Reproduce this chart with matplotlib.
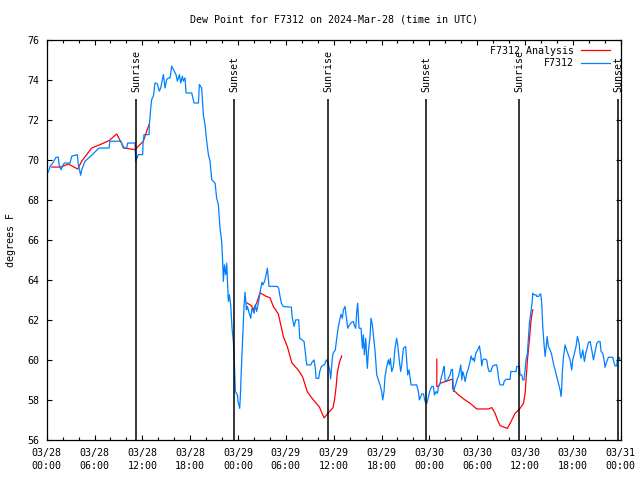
import numpy as np
import matplotlib
matplotlib.use("Agg")
import matplotlib.pyplot as plt
from matplotlib.ticker import MultipleLocator

# ---------------- data (hours since 2024-03-28 00:00 UTC) ----------------
obs_hours = [0.21, 0.42, 0.71, 1.17, 1.46, 1.55, 1.8, 1.96, 2.21, 2.93, 3.13, 3.84, 3.97, 4.26, 4.39,
             4.81, 5.64, 6.56, 7.82, 7.94, 9.32, 9.61, 10.03, 10.16, 11.08, 11.16, 11.49, 12.04,
             12.08, 12.21, 12.84, 12.88, 13.05, 13.17, 13.38, 13.59, 13.88, 14.13, 14.3, 14.64,
             14.85, 15.05, 15.26, 15.47, 15.68, 15.89, 16.22, 16.39, 16.64, 16.81, 17.02, 17.14,
             17.35, 17.48, 18.19, 18.48, 19.03, 19.15, 19.44, 19.65, 19.86, 20.07, 20.28, 20.49,
             20.7, 21.12, 21.32, 21.53, 21.74, 21.95, 22.08, 22.16, 22.29, 22.45, 22.58, 22.7,
             22.79, 22.91, 23.08, 23.25, 23.41, 23.5, 23.59, 23.67, 23.92, 24.0, 24.21, 24.3,
             24.42, 24.55, 24.76, 24.88, 25.05, 25.17, 25.34, 25.59, 25.76, 26.01, 26.18, 26.34,
             26.51, 26.68, 26.85, 27.01, 27.14, 27.35, 27.52, 27.68, 27.77, 27.89, 28.94, 29.1,
             29.23, 29.44, 29.65, 30.69, 30.78, 31.03, 31.24, 31.61, 31.74, 32.28, 32.45, 32.62,
             33.12, 33.28, 33.53, 33.7, 33.79, 34.12, 34.25, 34.45, 34.87, 35.08, 35.21, 35.29,
             35.5, 35.62, 35.79, 35.92, 36.2, 36.38, 36.59, 36.8, 36.92, 37.09, 37.22, 37.42,
             37.55, 37.76, 37.93, 38.26, 38.47, 38.59, 38.76, 38.89, 39.01, 39.18, 39.43, 39.6,
             39.72, 39.85, 40.02, 40.14, 40.22, 40.35, 40.56, 40.68, 40.85, 41.02, 41.19, 41.4,
             41.6, 41.81, 42.02, 42.15, 42.31, 42.44, 42.65, 42.86, 42.98, 43.11, 43.28, 43.49,
             43.69, 43.9, 44.03, 44.2, 44.4, 44.53, 44.74, 45.03, 45.16, 45.28, 45.45, 45.7,
             46.41, 46.62, 46.75, 46.84, 47.05, 47.26, 47.47, 47.68, 47.89, 48.09, 48.3, 48.51,
             48.64, 48.85, 49.01, 49.14, 49.35, 49.47, 49.64, 49.77, 49.85, 49.98, 50.18, 50.39,
             50.6, 50.73, 50.9, 51.02, 51.15, 51.35, 51.52, 51.65, 51.77, 51.94, 52.07, 52.19,
             52.36, 52.48, 52.69, 52.9, 53.11, 53.24, 53.4, 53.53, 53.65, 53.82, 53.95, 54.16,
             54.28, 54.45, 54.57, 54.7, 54.87, 55.2, 55.33, 55.49, 55.7, 55.95, 56.25, 56.45,
             56.58, 56.7, 56.87, 57.29, 57.37, 57.62, 58.13, 58.21, 58.88, 58.96, 59.3, 59.38,
             59.59, 59.71, 59.88, 60.01, 60.13, 60.3, 60.43, 60.55, 60.72, 60.88, 60.97, 61.14,
             61.39, 61.47, 61.72, 61.8, 61.97, 62.1, 62.22, 62.39, 62.52, 62.64, 62.77, 62.93,
             63.14, 63.35, 63.56, 63.77, 63.98, 64.19, 64.4, 64.52, 64.61, 64.69, 64.81, 65.02,
             65.23, 65.44, 65.65, 65.86, 65.98, 66.15, 66.4, 66.57, 66.78, 66.9, 67.03, 67.24,
             67.45, 67.61, 67.74, 67.95, 68.16, 68.37, 68.58, 68.79, 69.0, 69.2, 69.41, 69.54,
             69.75, 69.91, 70.04, 70.25, 70.46, 71.0, 71.08, 71.29, 71.5, 71.59, 71.8, 71.92]
obs_values = [69.38, 69.67, 69.8, 70.12, 70.12, 69.75, 69.5, 69.67, 69.83, 69.83, 70.17, 70.25, 69.75,
              69.22, 69.5, 69.92, 70.22, 70.58, 70.58, 70.92, 70.92, 70.58, 70.58, 70.83, 70.83,
              69.92, 70.25, 70.25, 70.78, 71.25, 71.25, 71.75, 72.58, 73.0, 73.17, 73.83, 73.78,
              73.42, 73.58, 74.25, 73.58, 74.0, 74.08, 74.08, 74.67, 74.5, 74.25, 73.92, 74.25,
              73.83, 74.17, 73.92, 74.08, 73.33, 73.33, 72.83, 72.83, 73.75, 73.58, 72.25, 71.75,
              70.92, 70.25, 69.92, 69.0, 68.83, 68.08, 67.75, 66.58, 65.92, 64.83, 63.92, 64.75,
              64.25, 64.83, 63.75, 62.92, 63.25, 62.75, 61.58, 60.92, 60.3, 59.25, 58.42, 58.25,
              57.92, 57.58, 58.25, 59.58, 60.83, 62.75, 63.38, 62.5, 62.67, 62.42, 62.08, 62.58,
              62.33, 62.75, 62.42, 62.75, 63.17, 63.58, 63.88, 63.75, 63.95, 64.25, 64.58, 64.17,
              63.67, 63.67, 63.58, 63.25, 62.83, 62.67, 62.63, 62.17, 61.67, 62.0, 62.0, 61.08,
              60.92, 60.33, 59.75, 59.75, 59.88, 60.0, 59.58, 59.08, 59.08, 59.42, 59.67, 59.78,
              60.0, 59.92, 59.83, 59.5, 59.05, 59.92, 60.33, 60.5, 61.08, 61.67, 62.08, 62.28,
              62.08, 62.5, 62.67, 62.25, 61.58, 61.72, 61.88, 61.92, 61.72, 61.58, 62.42, 62.83,
              61.58, 61.58, 60.58, 61.25, 60.25, 61.08, 60.08, 59.58, 60.42, 61.17, 62.08, 61.75,
              61.08, 60.42, 59.25, 59.0, 58.75, 58.42, 58.0, 58.42, 59.17, 59.67, 60.0, 59.75,
              60.08, 59.42, 59.67, 60.58, 61.08, 60.75, 60.08, 59.42, 59.75, 60.58, 60.67, 59.92,
              59.25, 59.5, 58.75, 58.75, 58.42, 58.0, 58.08, 58.3, 58.3, 57.92, 57.83, 58.17,
              58.5, 58.67, 58.67, 58.25, 58.42, 58.33, 58.67, 58.83, 59.08, 59.33, 59.58, 59.67,
              59.0, 58.92, 59.08, 59.25, 59.5, 59.53, 58.42, 58.58, 58.83, 59.08, 59.17, 59.42,
              59.75, 59.0, 59.42, 59.17, 58.92, 59.33, 59.58, 59.92, 60.2, 60.0, 60.08, 59.92,
              60.33, 60.42, 60.58, 60.7, 60.25, 59.7, 60.0, 60.05, 60.0, 59.63, 59.42, 59.42,
              59.7, 59.75, 59.75, 59.42, 59.03, 58.75, 58.75, 58.92, 59.03, 59.03, 59.42, 59.42,
              59.67, 59.67, 59.25, 59.25, 59.0, 59.0, 59.5, 60.0, 60.33, 61.08, 61.83, 62.33,
              62.83, 63.33, 63.25, 63.25, 63.17, 63.17, 63.25, 63.3, 62.8, 61.67, 60.75, 60.17,
              60.58, 61.17, 60.67, 60.5, 60.25, 59.83, 59.5, 59.17, 58.83, 58.5, 58.17, 58.67,
              59.5, 60.08, 60.75, 60.47, 60.25, 60.0, 59.5, 60.0, 60.25, 60.67, 61.17, 60.83,
              60.33, 60.08, 60.5, 59.92, 60.33, 60.5, 60.87, 60.92, 60.5, 60.0, 60.42, 60.83,
              60.92, 60.92, 60.42, 60.33, 60.0, 59.63, 59.92, 60.13, 60.13, 60.0, 59.7, 59.7,
              60.0, 60.13, 60.0]

nan = float("nan")
ana_hours = [0.63, 1.8, 2.72, 3.89, 4.39, 5.64, 6.69, 7.82, 8.78, 9.7, 11.08, 12.12, 12.54, 12.84,
             nan,
             25.1, 25.7, 25.9, 26.35, 26.75, 27.4, 28.0, 28.45, 29.05, 29.7, 30.2, 30.75, 31.55,
             32.1, 32.7, 33.45, 34.2, 34.8, 35.3, 35.9, 36.1, 36.3, 36.45, 36.7, 37.0,
             nan,
             48.93, 48.94, 49.14, 49.35, 49.98, 50.81, 50.9, 50.91, 51.02, 51.65, 52.48, 53.11,
             53.95, 55.41, 55.83, 56.25, 56.54, 56.87, 57.79, 58.13, 58.75, 59.38, 59.8, 60.01,
             60.13, 60.3, 60.55, 60.72, 60.88, 60.97]
ana_values = [69.63, 69.63, 69.78, 69.53, 69.92, 70.58, 70.75, 70.95, 71.28, 70.58, 70.5, 70.92, 71.42,
              71.75,
              nan,
              62.85, 62.7, 62.5, 62.85, 63.35, 63.2, 63.1, 62.65, 62.3, 61.15, 60.65, 59.85, 59.5,
              59.15, 58.4, 58.0, 57.65, 57.1, 57.35, 57.6, 58.0, 58.65, 59.35, 59.85, 60.2,
              nan,
              60.03, 58.67, 58.67, 58.83, 58.92, 59.03, 59.03, 58.63, 58.5, 58.25, 58.0, 57.83,
              57.55, 57.55, 57.62, 57.33, 57.0, 56.72, 56.58, 56.83, 57.33, 57.58, 57.83, 58.33,
              59.0, 60.0, 61.0, 61.83, 62.33, 62.5]

sun_hours = [11.25, 23.55, 35.3, 47.62, 59.3, 71.65]
sun_labels = ["Sunrise", "Sunset", "Sunrise", "Sunset", "Sunrise", "Sunset"]

xtick_hours = list(range(0, 73, 6))
xtick_labels = ["03/28\n00:00", "03/28\n06:00", "03/28\n12:00", "03/28\n18:00",
                "03/29\n00:00", "03/29\n06:00", "03/29\n12:00", "03/29\n18:00",
                "03/30\n00:00", "03/30\n06:00", "03/30\n12:00", "03/30\n18:00",
                "03/31\n00:00"]
ytick_values = list(range(56, 77, 2))

# ---------------- drawing ----------------
FS = 7.2
plt.rcParams["font.family"] = ["DejaVu Sans Mono", "DejaVu Sans"]
plt.rcParams["font.size"] = FS

fig = plt.figure(figsize=(6.4, 4.8), dpi=100)
ax = fig.add_axes([46.7 / 640, 40 / 480, 574 / 640, 400.5 / 480])

ax.plot(ana_hours, ana_values, color="#ff0000", lw=0.9, label="F7312 Analysis", zorder=3)
ax.plot(obs_hours, obs_values, color="#0080ff", lw=0.9, label="F7312", zorder=4)

for t, lab in zip(sun_hours, sun_labels):
    ax.vlines(t, 56, 73.05, color="black", lw=1.1, zorder=5)
    ax.text(t, 73.4, lab, rotation=90, ha="center", va="bottom", fontsize=FS,
            clip_on=False, zorder=6)

ax.set_xlim(0, 72)
ax.set_ylim(56, 76)
ax.set_xticks(xtick_hours)
ax.set_xticklabels(xtick_labels)
ax.xaxis.set_minor_locator(MultipleLocator(2))
ax.set_yticks(ytick_values)
for lbl in ax.get_xticklabels():
    lbl.set_linespacing(1.45)

ax.tick_params(which="both", direction="in", top=True, right=True, width=0.8, labelsize=FS)
ax.tick_params(which="major", length=3.3)
ax.tick_params(which="minor", length=1.9)
ax.tick_params(axis="x", pad=5.5)
ax.tick_params(axis="y", pad=5)
for s in ax.spines.values():
    s.set_linewidth(0.9)

ax.set_title("Dew Point for F7312 on 2024-Mar-28 (time in UTC)", fontsize=FS, pad=12.5)
ax.set_ylabel("degrees F", fontsize=FS, labelpad=8.5)

leg = ax.legend(loc="upper right", bbox_to_anchor=((610 - 46.7) / 574, (440 - 45.5) / 400.5),
                frameon=False, markerfirst=False, fontsize=FS, borderpad=0, borderaxespad=0,
                handlelength=2.9, handletextpad=0.7, labelspacing=0.3)
leg.set_zorder(10)

fig.savefig("out.png", dpi=100)
